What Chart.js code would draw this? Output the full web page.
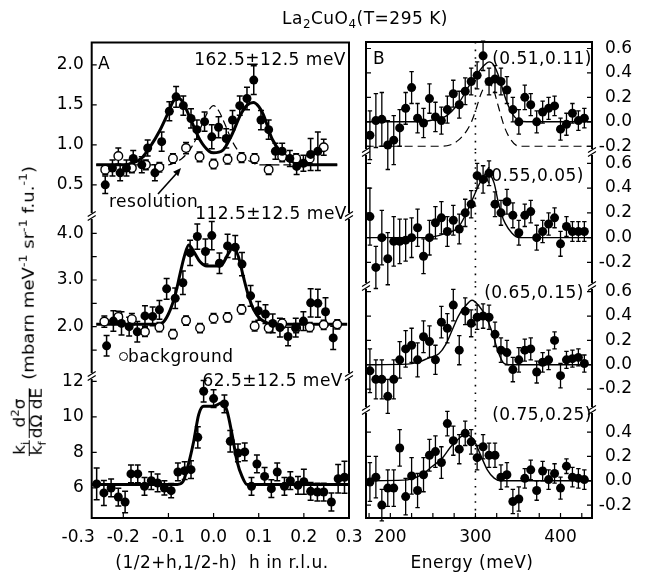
<!DOCTYPE html>
<html lang="en">
<head>
<meta charset="UTF-8">
<script src="https://cdn.jsdelivr.net/npm/chart.js"></script>
<title>La2CuO4 (T=295 K)</title>
<style>
  body { margin: 0; background: #fff; }
  #fig { position: relative; width: 652px; height: 581px; font-family: "DejaVu Sans", sans-serif; color: #000; overflow: hidden; }
  #fig canvas { position: absolute; left: 0; top: 0; }
  .lbl { position: absolute; font-size: 17px; line-height: 1; white-space: pre; letter-spacing: 0.5px; }
  .lbl sub, .lbl sup, #ylab sub, #ylab sup { font-size: 0.7em; line-height: 0; }
  #ylab { position: absolute; left: 29px; top: 311px; font-size: 16px; line-height: 1; white-space: nowrap;
          transform: translate(-50%, -50%) rotate(-90deg) scale(1.13, 1); }
  .frac { display: inline-flex; flex-direction: column; vertical-align: middle; text-align: center; font-size: 15px; line-height: 1.05; margin-right: 2px; }
  .frac .num { border-bottom: 1.2px solid #000; padding: 0 1px; }
  .oc { position: absolute; width: 7px; height: 7px; border: 1.4px solid #000; border-radius: 50%; background: #fff; }
</style>
</head>
<body>
<div id="fig">
  <canvas id="a1" width="652" height="581"></canvas>
  <canvas id="a2" width="652" height="581"></canvas>
  <canvas id="a3" width="652" height="581"></canvas>
  <canvas id="b1" width="652" height="581"></canvas>
  <canvas id="b2" width="652" height="581"></canvas>
  <canvas id="b3" width="652" height="581"></canvas>
  <canvas id="b4" width="652" height="581"></canvas>

  <div class="lbl" style="left:365px; top:10px; transform:translateX(-50%);">La<sub>2</sub>CuO<sub>4</sub>(T=295 K)</div>
  <div id="ylab"><span class="frac"><span class="num">k<sub>i</sub></span><span>k<sub>f</sub></span></span><span class="frac"><span class="num">d<sup>2</sup>σ</span><span>dΩ dE</span></span> (mbarn meV<sup>-1</sup> sr<sup>-1</sup> f.u.<sup>-1</sup>)</div>

  <div class="lbl" style="left:98px; top:55px;">A</div>
  <div class="lbl" style="right:306px; top:51px;">162.5±12.5 meV</div>
  <div class="lbl" style="left:109px; top:193px;">resolution</div>
  <div class="lbl" style="right:305px; top:205px;">112.5±12.5 meV</div>
  <div class="oc" style="left:119px; top:352px;"></div>
  <div class="lbl" style="left:128px; top:348px;">background</div>
  <div class="lbl" style="right:309px; top:372px;">62.5±12.5 meV</div>
  <div class="lbl" style="left:222px; top:554px; transform:translateX(-50%);">(1/2+h,1/2-h)  h in r.l.u.</div>

  <div class="lbl" style="left:373px; top:50px;">B</div>
  <div class="lbl" style="right:60px; top:50px;">(0.51,0.11)</div>
  <div class="lbl" style="right:68px; top:167px;">(0.55,0.05)</div>
  <div class="lbl" style="right:68px; top:284px;">(0.65,0.15)</div>
  <div class="lbl" style="right:60px; top:406px;">(0.75,0.25)</div>
  <div class="lbl" style="left:472px; top:554px; transform:translateX(-50%);">Energy (meV)</div>

  <svg width="652" height="581" style="position:absolute; left:0; top:0;">
    <line x1="158" y1="194" x2="176" y2="174" stroke="#000" stroke-width="1.6"/>
    <polygon points="181,168 178.3,176.3 173.1,171.7" fill="#000"/>
  </svg>
</div>

<script>
    // ---- panel A : constant energy cuts along (1/2+h,1/2-h) ----
    // 162.5 meV
    const hA1 = [-0.240, -0.224, -0.207, -0.193, -0.178, -0.159, -0.146, -0.130, -0.115, -0.098, -0.083, -0.067, -0.050, -0.037, -0.020, -0.004, 0.011, 0.028, 0.042, 0.058, 0.074, 0.089, 0.105, 0.122, 0.137, 0.152, 0.169, 0.184, 0.199, 0.215, 0.231];
    const yA1 = [0.50, 0.71, 0.65, 0.71, 0.83, 0.75, 0.96, 0.65, 1.04, 1.42, 1.60, 1.49, 1.33, 1.19, 1.29, 1.10, 1.22, 1.08, 1.31, 1.49, 1.58, 1.81, 1.31, 1.19, 0.92, 0.92, 0.83, 0.73, 0.77, 0.88, 0.92];
    const eA1 = [0.11, 0.10, 0.10, 0.10, 0.10, 0.10, 0.10, 0.10, 0.12, 0.12, 0.13, 0.12, 0.12, 0.12, 0.12, 0.15, 0.13, 0.12, 0.12, 0.12, 0.14, 0.18, 0.12, 0.12, 0.10, 0.10, 0.10, 0.10, 0.10, 0.20, 0.24];
    const hA1bg = [-0.240, -0.211, -0.181, -0.150, -0.120, -0.090, -0.061, -0.031, 0.000, 0.031, 0.062, 0.091, 0.122, 0.152, 0.183, 0.213, 0.244];
    const yA1bg = [0.69, 0.86, 0.71, 0.75, 0.72, 0.83, 0.96, 0.85, 0.76, 0.82, 0.84, 0.83, 0.69, 0.85, 0.83, 0.83, 0.97];
    const eA1bg = [0.06, 0.10, 0.06, 0.06, 0.06, 0.06, 0.07, 0.06, 0.06, 0.06, 0.06, 0.06, 0.06, 0.06, 0.06, 0.06, 0.10];
    const fitA1h = [-0.26, -0.20, -0.18, -0.16, -0.14, -0.12, -0.10, -0.09, -0.08, -0.07, -0.05, -0.03, -0.01, 0.00, 0.02, 0.04, 0.06, 0.075, 0.088, 0.10, 0.11, 0.13, 0.15, 0.17, 0.19, 0.21, 0.274];
    const fitA1y = [0.75, 0.75, 0.77, 0.83, 0.98, 1.17, 1.41, 1.54, 1.59, 1.55, 1.31, 1.06, 0.92, 0.90, 0.93, 1.12, 1.38, 1.50, 1.53, 1.48, 1.38, 1.07, 0.90, 0.80, 0.76, 0.75, 0.75];
    const resA1h = [-0.26, -0.10, -0.085, -0.07, -0.055, -0.04, -0.025, -0.012, 0.0, 0.012, 0.025, 0.04, 0.055, 0.07, 0.085, 0.10, 0.274];
    const resA1y = [0.75, 0.75, 0.78, 0.83, 0.92, 1.06, 1.26, 1.42, 1.49, 1.42, 1.26, 1.06, 0.92, 0.83, 0.78, 0.75, 0.75];

    // 112.5 meV
    const hA2 = [-0.237, -0.222, -0.204, -0.187, -0.169, -0.152, -0.135, -0.120, -0.104, -0.085, -0.068, -0.052, -0.036, -0.018, -0.004, 0.013, 0.031, 0.048, 0.063, 0.082, 0.099, 0.115, 0.131, 0.147, 0.165, 0.182, 0.199, 0.215, 0.231, 0.248, 0.265];
    const yA2 = [1.59, 2.12, 2.07, 2.00, 1.89, 2.23, 2.22, 2.36, 2.81, 2.61, 2.94, 3.58, 3.93, 3.61, 3.95, 3.36, 3.73, 3.70, 3.34, 2.66, 2.34, 2.27, 2.07, 1.98, 1.79, 1.98, 2.12, 2.51, 2.50, 2.32, 1.76];
    const eA2 = [0.22, 0.22, 0.25, 0.20, 0.22, 0.22, 0.20, 0.20, 0.22, 0.22, 0.25, 0.27, 0.27, 0.27, 0.30, 0.22, 0.25, 0.25, 0.25, 0.22, 0.20, 0.20, 0.20, 0.20, 0.20, 0.20, 0.20, 0.30, 0.30, 0.30, 0.25];
    const hA2bg = [-0.242, -0.211, -0.181, -0.152, -0.120, -0.090, -0.061, -0.030, 0.000, 0.031, 0.062, 0.091, 0.122, 0.152, 0.183, 0.213, 0.244, 0.274];
    const yA2bg = [2.11, 2.21, 2.16, 1.89, 1.99, 1.84, 2.13, 1.97, 2.18, 2.20, 2.37, 2.01, 1.97, 2.07, 1.97, 1.99, 2.04, 2.05];
    const eA2bg = [0.12, 0.12, 0.12, 0.10, 0.10, 0.10, 0.10, 0.10, 0.10, 0.10, 0.10, 0.10, 0.10, 0.10, 0.10, 0.10, 0.10, 0.10];
    const fitA2h = [-0.26, -0.125, -0.111, -0.096, -0.085, -0.074, -0.065, -0.055, -0.044, -0.03, -0.015, 0.015, 0.033, 0.044, 0.055, 0.066, 0.078, 0.089, 0.104, 0.122, 0.14, 0.296];
    const fitA2y = [2.05, 2.05, 2.10, 2.36, 2.68, 3.14, 3.50, 3.75, 3.61, 3.39, 3.30, 3.30, 3.57, 3.71, 3.50, 3.07, 2.64, 2.36, 2.16, 2.07, 2.05, 2.05];

    // 62.5 meV
    const hA3 = [-0.259, -0.243, -0.227, -0.211, -0.196, -0.183, -0.168, -0.153, -0.138, -0.124, -0.109, -0.094, -0.079, -0.064, -0.050, -0.035, -0.022, 0.000, 0.024, 0.037, 0.054, 0.069, 0.084, 0.096, 0.113, 0.128, 0.141, 0.157, 0.170, 0.187, 0.200, 0.215, 0.230, 0.244, 0.261, 0.276, 0.290];
    const yA3 = [6.23, 5.72, 6.00, 5.49, 5.21, 6.79, 6.79, 6.09, 6.41, 6.28, 6.00, 5.85, 6.90, 6.97, 7.03, 8.85, 11.44, 11.03, 10.73, 8.63, 7.97, 8.03, 6.09, 7.35, 6.65, 5.96, 6.90, 6.09, 6.41, 6.15, 6.35, 5.81, 5.77, 5.77, 5.21, 6.52, 6.60];
    const eA3 = [0.9, 0.7, 0.5, 0.5, 0.6, 0.5, 0.5, 0.5, 0.5, 0.5, 0.4, 0.4, 0.5, 0.5, 0.5, 0.6, 0.6, 0.5, 0.5, 0.6, 0.5, 0.5, 0.5, 0.5, 0.5, 0.5, 0.5, 0.5, 0.5, 0.5, 0.7, 0.5, 0.5, 0.5, 0.5, 0.8, 0.9];
    const fitA3h = [-0.27, -0.08, -0.068, -0.056, -0.044, -0.033, -0.022, 0.0, 0.019, 0.03, 0.041, 0.052, 0.063, 0.074, 0.30];
    const fitA3y = [6.2, 6.2, 6.35, 7.31, 8.63, 10.13, 10.6, 10.6, 10.79, 10.32, 9.0, 7.5, 6.65, 6.2, 6.2];

    // ---- panel B : energy scans at fixed Q ----
    const energy = [176, 183, 190, 197, 204, 211, 218, 225, 232, 239, 246, 253, 260, 267, 274, 281, 288, 295, 302, 309, 316, 323, 330, 337, 344, 351, 358, 365, 372, 379, 386, 393, 400, 407, 414, 421, 428];
    // (0.51,0.11)
    const yB1 = [-0.11, 0.01, 0.02, -0.19, -0.15, -0.05, 0.11, 0.28, 0.03, -0.01, 0.19, 0.04, 0.01, 0.10, 0.23, 0.14, 0.25, 0.33, 0.38, 0.54, 0.33, 0.35, 0.33, 0.26, 0.10, 0.00, 0.20, 0.14, 0.00, 0.08, 0.11, 0.13, -0.06, -0.02, 0.07, 0.01, 0.03];
    const eB1 = [0.20, 0.22, 0.22, 0.20, 0.20, 0.15, 0.13, 0.13, 0.12, 0.12, 0.12, 0.12, 0.11, 0.11, 0.11, 0.11, 0.11, 0.11, 0.11, 0.12, 0.11, 0.11, 0.11, 0.11, 0.10, 0.10, 0.10, 0.09, 0.09, 0.09, 0.09, 0.08, 0.09, 0.09, 0.08, 0.08, 0.08];
    const fitB1E = [171, 235, 250, 265, 280, 294, 304, 310, 316, 322, 328, 334, 340, 346, 352, 360, 437];
    const fitB1y = [0, 0, 0.015, 0.045, 0.15, 0.31, 0.41, 0.46, 0.49, 0.46, 0.36, 0.22, 0.11, 0.04, 0.01, 0, 0];
    const resB1E = [171, 260, 270, 280, 290, 296, 302, 306, 311, 316, 321, 326, 330, 334, 341, 351, 437];
    const resB1y = [-0.2, -0.2, -0.19, -0.15, -0.07, 0.01, 0.13, 0.22, 0.29, 0.31, 0.27, 0.15, 0.05, -0.04, -0.14, -0.2, -0.2];
    // (0.55,0.05)
    const yB2 = [0.17, -0.24, 0.00, -0.17, -0.03, -0.03, -0.02, 0.00, 0.08, -0.15, 0.00, 0.12, 0.16, 0.05, 0.14, 0.07, 0.20, 0.27, 0.50, 0.47, 0.52, 0.27, 0.20, 0.29, 0.18, 0.04, 0.18, 0.21, 0.00, 0.05, 0.11, 0.16, -0.05, 0.09, 0.05, 0.05, 0.05];
    const eB2 = [0.23, 0.17, 0.22, 0.21, 0.20, 0.18, 0.17, 0.16, 0.15, 0.14, 0.14, 0.13, 0.13, 0.12, 0.12, 0.12, 0.11, 0.11, 0.10, 0.11, 0.10, 0.10, 0.10, 0.10, 0.10, 0.10, 0.09, 0.09, 0.10, 0.09, 0.09, 0.08, 0.10, 0.08, 0.08, 0.08, 0.08];
    const fitB2E = [171, 240, 265, 280, 288, 296, 304, 310, 314, 318, 322, 327, 331, 335, 343, 351, 437];
    const fitB2y = [0, 0, 0.035, 0.084, 0.18, 0.30, 0.425, 0.50, 0.524, 0.50, 0.44, 0.28, 0.18, 0.115, 0.035, 0, 0];
    // (0.65,0.15)
    const yB3 = [-0.05, -0.12, -0.12, -0.26, -0.12, 0.04, 0.13, 0.16, 0.04, 0.23, 0.19, 0.04, 0.35, 0.30, 0.49, 0.12, 0.44, 0.34, 0.39, 0.40, 0.39, 0.25, 0.12, 0.10, -0.04, 0.04, 0.12, 0.13, -0.06, 0.02, 0.04, 0.20, -0.09, 0.04, 0.05, 0.06, 0.01];
    const eB3 = [0.18, 0.16, 0.16, 0.14, 0.16, 0.15, 0.15, 0.14, 0.14, 0.13, 0.13, 0.12, 0.13, 0.12, 0.13, 0.12, 0.11, 0.11, 0.10, 0.10, 0.10, 0.10, 0.10, 0.10, 0.10, 0.10, 0.09, 0.09, 0.09, 0.08, 0.08, 0.07, 0.10, 0.07, 0.07, 0.07, 0.07];
    const fitB3E = [171, 220, 230, 245, 257, 265, 273, 280, 288, 296, 304, 312, 320, 327, 333, 340, 437];
    const fitB3y = [0, 0.005, 0.015, 0.055, 0.09, 0.165, 0.29, 0.40, 0.48, 0.53, 0.485, 0.40, 0.26, 0.10, 0.015, 0, 0];
    // (0.75,0.25)
    const yB4 = [-0.01, 0.03, -0.20, -0.06, -0.06, 0.27, -0.13, 0.04, -0.08, 0.05, 0.21, 0.24, 0.15, 0.47, 0.33, 0.26, 0.39, 0.32, 0.19, 0.28, 0.21, 0.21, 0.03, 0.05, -0.17, -0.15, 0.02, 0.09, -0.08, 0.08, 0.01, 0.06, -0.06, 0.12, 0.03, 0.02, 0.01];
    const eB4 = [0.16, 0.17, 0.13, 0.15, 0.15, 0.15, 0.15, 0.15, 0.14, 0.14, 0.13, 0.13, 0.13, 0.10, 0.12, 0.12, 0.10, 0.10, 0.10, 0.10, 0.10, 0.10, 0.10, 0.10, 0.10, 0.10, 0.08, 0.08, 0.08, 0.08, 0.08, 0.08, 0.09, 0.06, 0.08, 0.08, 0.08];
    const fitB4E = [171, 215, 225, 237, 249, 261, 271, 281, 288, 298, 306, 314, 322, 330, 437];
    const fitB4y = [0, 0.005, 0.016, 0.05, 0.117, 0.186, 0.28, 0.35, 0.383, 0.336, 0.213, 0.09, 0.022, 0, 0];

    // tick values
    const ticksA1 = [0.5, 1.0, 1.5, 2.0];
    const ticksA2 = [1.5, 2.0, 2.5, 3.0, 3.5, 4.0];
    const ticksA3 = [6, 8, 10, 12];
    const ticksB = [-0.2, 0.0, 0.2, 0.4, 0.6];
    const ticksH = [-0.3, -0.2, -0.1, 0.0, 0.1, 0.2, 0.3];
    const ticksE = [175, 200, 225, 250, 275, 300, 325, 350, 375, 400, 425];

    const W = 652, H = 581;
    Chart.defaults.font.family = '"DejaVu Sans", sans-serif';
    Chart.defaults.font.size = 17;
    Chart.defaults.color = '#000';

    // error bars, frame, inward ticks and axis-break marks
    const framePlugin = {
        id: 'frame',
        beforeDatasetsDraw(chart, args, o) {
            const { ctx, chartArea: a, scales: { x, y } } = chart;
            ctx.save();
            ctx.strokeStyle = '#000';
            if (o.guide != null) {
                const gx = x.getPixelForValue(o.guide);
                ctx.lineWidth = 1.6;
                ctx.setLineDash([1.6, 6]);
                ctx.beginPath(); ctx.moveTo(gx, a.top); ctx.lineTo(gx, a.bottom); ctx.stroke();
                ctx.setLineDash([]);
            }
            ctx.lineWidth = o.errW || 1.3;
            const c = o.cap || 2.5;
            chart.data.datasets.forEach(ds => {
                if (!ds.errors) return;
                ds.data.forEach((p, i) => {
                    const px = x.getPixelForValue(p.x);
                    const y1 = y.getPixelForValue(p.y + ds.errors[i]);
                    const y2 = y.getPixelForValue(p.y - ds.errors[i]);
                    ctx.beginPath();
                    ctx.moveTo(px, y1); ctx.lineTo(px, y2);
                    ctx.moveTo(px - c, y1); ctx.lineTo(px + c, y1);
                    ctx.moveTo(px - c, y2); ctx.lineTo(px + c, y2);
                    ctx.stroke();
                });
            });
            ctx.restore();
        },
        afterDraw(chart, args, o) {
            const { ctx, chartArea: a, scales: { x, y } } = chart;
            ctx.save();
            ctx.strokeStyle = '#000';
            ctx.lineWidth = 2;
            const gT = o.breakTop ? 3 : 0, gB = o.breakBottom ? 3 : 0;
            ctx.beginPath();
            ctx.moveTo(a.left, a.top + gT); ctx.lineTo(a.left, a.bottom - gB);
            ctx.moveTo(a.right, a.top + gT); ctx.lineTo(a.right, a.bottom - gB);
            if (o.top) { ctx.moveTo(a.left - 1, a.top); ctx.lineTo(a.right + 1, a.top); }
            if (o.bottom) { ctx.moveTo(a.left - 1, a.bottom); ctx.lineTo(a.right + 1, a.bottom); }
            ctx.stroke();

            ctx.lineWidth = 1.2;
            ctx.beginPath();
            y.ticks.forEach(t => {
                const py = y.getPixelForValue(t.value);
                ctx.moveTo(a.left, py); ctx.lineTo(a.left + 5, py);
                if (o.rightTicks) { ctx.moveTo(a.right - 5, py); ctx.lineTo(a.right, py); }
            });
            if (o.bottom) {
                x.ticks.forEach(t => {
                    if (t.value < x.min || t.value > x.max) return;
                    const px = x.getPixelForValue(t.value);
                    ctx.moveTo(px, a.bottom); ctx.lineTo(px, a.bottom - 5);
                });
            }
            if (o.breakTop) {
                [a.left, a.right].forEach(bx => {
                    ctx.moveTo(bx - 4, a.top + 0.5); ctx.lineTo(bx + 4, a.top - 4.5);
                    ctx.moveTo(bx - 4, a.top + 4.5); ctx.lineTo(bx + 4, a.top - 0.5);
                });
            }
            ctx.stroke();
            ctx.restore();
        }
    };

    function pts(xs, ys) { return xs.map((v, i) => ({ x: v, y: ys[i] })); }

    function filled(xs, ys, errs) {
        return { data: pts(xs, ys), errors: errs, showLine: false, clip: false,
            pointRadius: 4.5, pointBackgroundColor: '#000', pointBorderColor: '#000', pointBorderWidth: 0 };
    }
    function hollow(xs, ys, errs) {
        return { data: pts(xs, ys), errors: errs, showLine: false, clip: false,
            pointRadius: 4.3, pointBackgroundColor: '#fff', pointBorderColor: '#000', pointBorderWidth: 1.4 };
    }
    function curve(xs, ys, width, dash) {
        return { data: pts(xs, ys), showLine: true, pointRadius: 0, borderColor: '#000',
            borderWidth: width, borderDash: dash || [], cubicInterpolationMode: 'monotone' };
    }

    const fmt1 = v => v.toFixed(1);

    function panel(id, box, xs, ys, datasets, frame) {
        const yW = 40;
        const left = ys.side === 'left';
        new Chart(document.getElementById(id), {
            type: 'scatter',
            data: { datasets },
            options: {
                responsive: false,
                animation: false,
                events: [],
                layout: { padding: {
                    top: box.top,
                    bottom: xs.show ? 0 : H - box.bottom,
                    left: left ? box.left - yW : box.left,
                    right: left ? W - box.right : W - box.right - yW
                } },
                plugins: { legend: { display: false }, tooltip: { enabled: false }, frame },
                scales: {
                    x: {
                        type: 'linear', min: xs.min, max: xs.max, display: xs.show,
                        afterBuildTicks: s => { s.ticks = xs.ticks.map(v => ({ value: v })); },
                        afterFit: s => { if (xs.show) s.height = H - box.bottom; },
                        grid: { display: false, drawTicks: false }, border: { display: false },
                        ticks: { autoSkip: false, maxRotation: 0, padding: 9, callback: xs.fmt }
                    },
                    y: {
                        type: 'linear', position: ys.side, min: ys.min, max: ys.max,
                        afterBuildTicks: s => { s.ticks = ys.ticks.filter(v => v >= ys.min && v <= ys.max).map(v => ({ value: v })); },
                        afterFit: s => { s.width = yW; },
                        grid: { display: false, drawTicks: false }, border: { display: false },
                        ticks: { autoSkip: false, padding: left ? 8 : 7, crossAlign: left ? 'near' : 'far', callback: ys.fmt }
                    }
                }
            },
            plugins: [framePlugin]
        });
    }

    // left column
    const colA = { left: 91.7, right: 349 };
    const xH = { min: -0.27, max: 0.3, ticks: ticksH, fmt: fmt1 };
    panel('a1', { ...colA, top: 42.5, bottom: 216 }, { ...xH, show: false },
        { side: 'left', min: 0.11, max: 2.28, ticks: ticksA1, fmt: fmt1 },
        [filled(hA1, yA1, eA1), hollow(hA1bg, yA1bg, eA1bg), curve(fitA1h, fitA1y, 3), curve(resA1h, resA1y, 1.2, [8, 4])],
        { top: true, breakBottom: true, errW: 1.5, cap: 3 });
    panel('a2', { ...colA, top: 216, bottom: 376 }, { ...xH, show: false },
        { side: 'left', min: 0.944, max: 4.37, ticks: ticksA2, fmt: v => Number.isInteger(v) ? v.toFixed(1) : '' },
        [filled(hA2, yA2, eA2), hollow(hA2bg, yA2bg, eA2bg), curve(fitA2h, fitA2y, 3)],
        { breakTop: true, breakBottom: true, errW: 1.5, cap: 3 });
    panel('a3', { ...colA, top: 376, bottom: 518 }, { ...xH, show: true },
        { side: 'left', min: 4.31, max: 12.3, ticks: ticksA3, fmt: v => String(v) },
        [filled(hA3, yA3, eA3), curve(fitA3h, fitA3y, 3)],
        { breakTop: true, bottom: true, errW: 1.5, cap: 3 });

    // right column
    const colB = { left: 366, right: 592 };
    const xE = { min: 171.4, max: 437, ticks: ticksE, fmt: v => v % 100 === 0 ? String(v) : '' };
    const yB = { side: 'right', ticks: ticksB, fmt: fmt1 };
    const fB = { rightTicks: true, guide: 300, errW: 1.3, cap: 2.2 };
    panel('b1', { ...colB, top: 42, bottom: 152 }, { ...xE, show: false }, { ...yB, min: -0.247, max: 0.653 },
        [filled(energy, yB1, eB1), curve(fitB1E, fitB1y, 1.4), curve(resB1E, resB1y, 1.2, [8, 5])],
        { ...fB, top: true, breakBottom: true });
    panel('b2', { ...colB, top: 152, bottom: 286 }, { ...xE, show: false }, { ...yB, min: -0.39, max: 0.691 },
        [filled(energy, yB2, eB2), curve(fitB2E, fitB2y, 1.4)],
        { ...fB, breakTop: true, breakBottom: true });
    panel('b3', { ...colB, top: 286, bottom: 410 }, { ...xE, show: false }, { ...yB, min: -0.372, max: 0.647 },
        [filled(energy, yB3, eB3), curve(fitB3E, fitB3y, 1.4)],
        { ...fB, breakTop: true, breakBottom: true });
    panel('b4', { ...colB, top: 410, bottom: 518 }, { ...xE, show: true }, { ...yB, min: -0.306, max: 0.582 },
        [filled(energy, yB4, eB4), curve(fitB4E, fitB4y, 1.4)],
        { ...fB, breakTop: true, bottom: true });
</script>
</body>
</html>
